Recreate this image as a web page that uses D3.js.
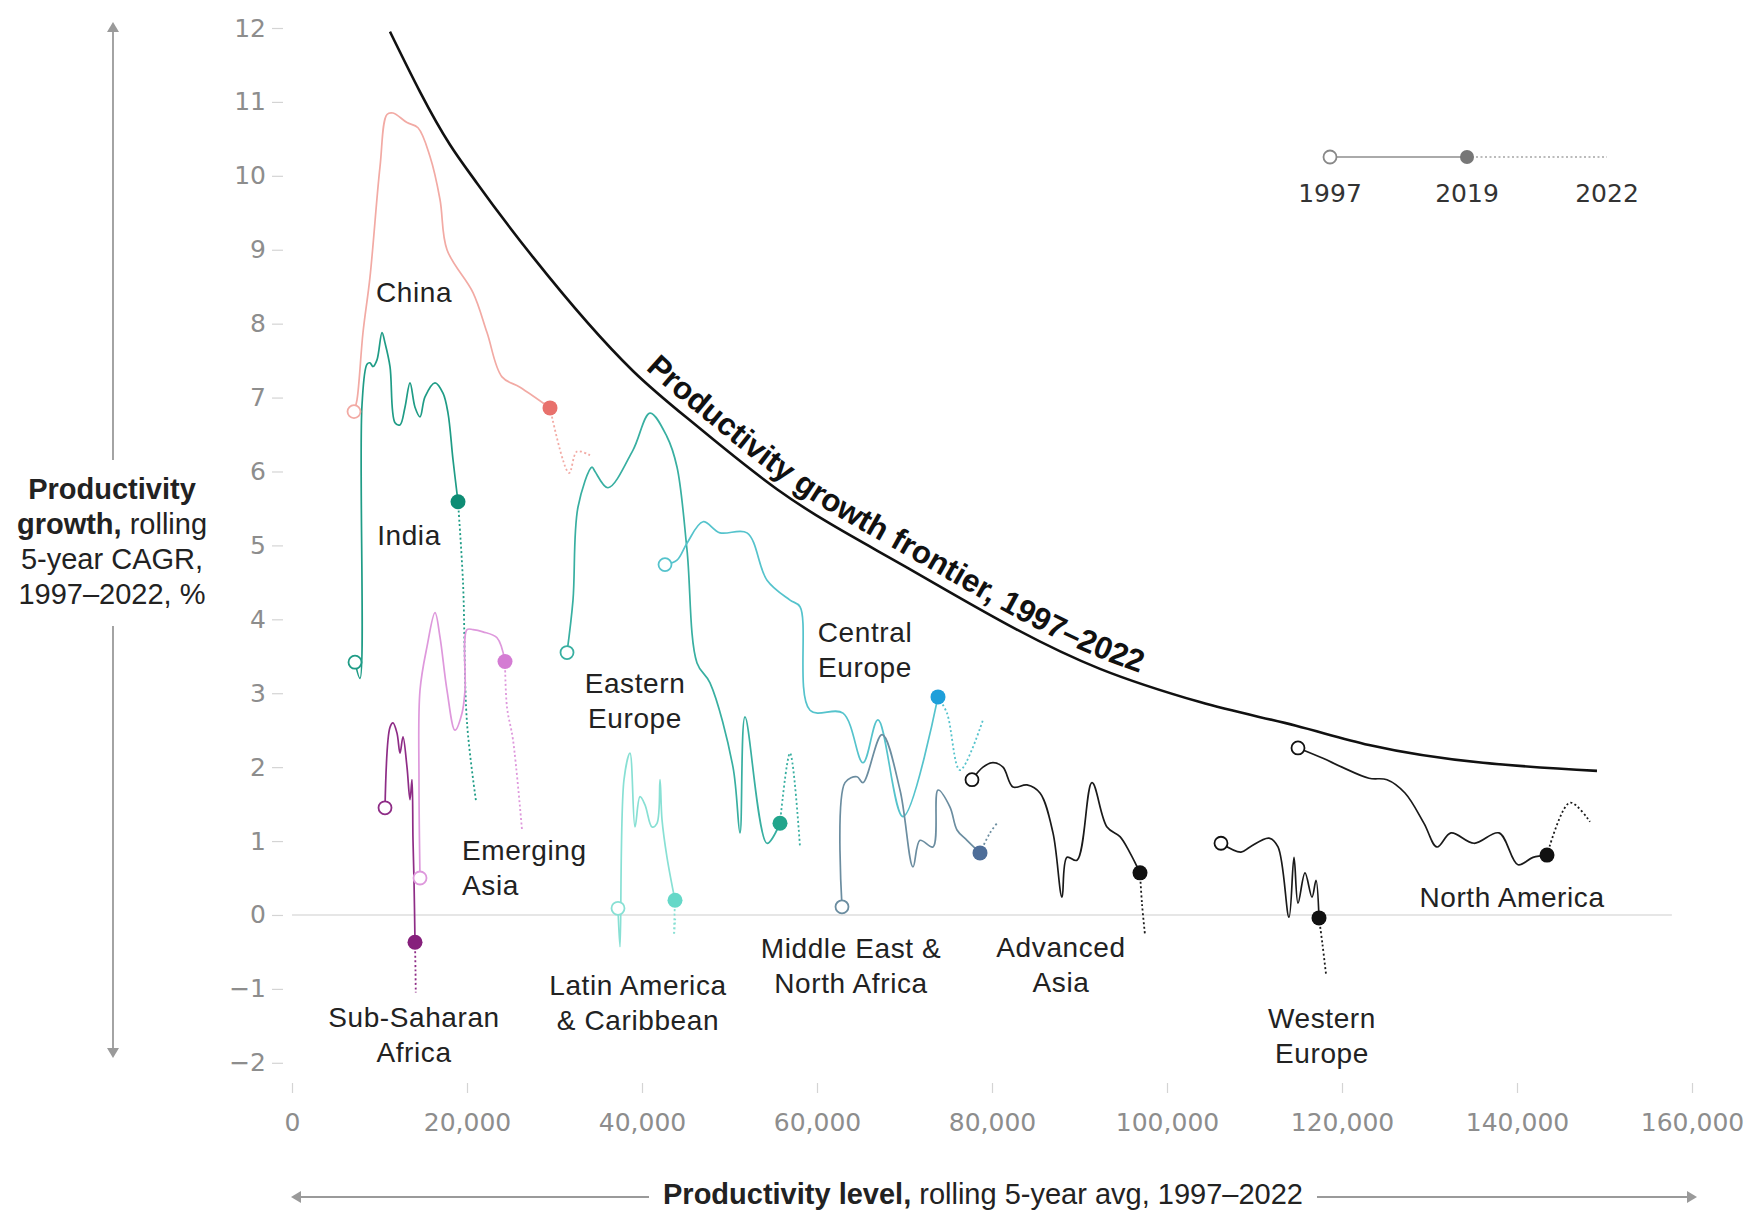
<!DOCTYPE html>
<html>
<head>
<meta charset="utf-8">
<script src="https://cdn.jsdelivr.net/npm/d3@7"></script>
<style>
html,body{margin:0;padding:0;background:#fff;}
svg{display:block;}
</style>
</head>
<body>
<svg id="chart" width="1756" height="1215"></svg>
<script>
// ================= DATA =================
const regionNames = ["China","India","Emerging Asia","Sub-Saharan Africa","Eastern Europe","Central Europe",
  "Latin America & Caribbean","Middle East & North Africa","Advanced Asia","Western Europe","North America"];
const xTickValues = [0,20000,40000,60000,80000,100000,120000,140000,160000];
const yTickValues = [-2,-1,0,1,2,3,4,5,6,7,8,9,10,11,12];
const legendYears = ["1997","2019","2022"];

// productivity growth frontier, 1997–2022  [level, growth %]
const frontier = [[11200,11.95],[18057,10.42],[21143,9.9],[27543,8.9],[38971,7.36],[46629,6.58],[55429,5.76],
  [70000,4.72],[92343,3.33],[103771,2.88],[114743,2.56],[123086,2.30],[149143,1.95]];

// each region: [productivity level, growth %]; first part 1997–2019, second 2019–2022
const china_1997_2019 = [[7086,6.81],[7429,6.97],[8114,7.88],[8914,8.63],[10057,10.12],[10857,10.83],[11543,10.85],
  [13143,10.72],[14400,10.65],[15771,10.26],[16914,9.68],[17714,9.0],[20686,8.42],[22286,7.88],[24000,7.28],[26057,7.14],[29486,6.86]];
const china_2019_2022 = [[29486,6.86],[31657,5.98],[32571,6.27],[34057,6.22]];

const india_1997_2019 = [[7200,3.42],[7771,3.2],[8000,6.9],[8571,7.45],[8914,7.47],[9257,7.42],[9714,7.51],[10286,7.88],
  [10629,7.74],[11200,7.42],[11771,6.66],[12343,6.63],[12914,6.87],[13486,7.20],[14057,6.87],[14629,6.74],[15200,7.01],
  [16343,7.20],[17257,7.06],[17829,6.79],[18400,6.16],[18971,5.59]];
const india_2019_2022 = [[18971,5.59],[19543,4.5],[20000,2.6],[21029,1.54]];

const emergingAsia_1997_2019 = [[14629,0.5],[14514,1.8],[14629,3.04],[15429,3.63],[16343,4.09],[16914,3.76],[17714,3.04],
  [18629,2.5],[19429,2.73],[19771,3.04],[20000,3.86],[20686,3.86],[21829,3.83],[23429,3.75],[24343,3.43]];
const emergingAsia_2019_2022 = [[24343,3.43],[24571,2.81],[25257,2.37],[26286,1.15]];

const subSaharanAfrica_1997_2019 = [[10629,1.45],[11200,2.54],[11543,2.60],[12000,2.46],[12343,2.19],[12686,2.41],
  [13143,2.0],[13486,1.56],[13714,1.83],[13829,1.01],[13943,0.47],[14057,-0.37]];
const subSaharanAfrica_2019_2022 = [[14057,-0.37],[14114,-0.75],[14143,-1.05]];

const easternEurope_1997_2019 = [[31429,3.55],[32114,4.26],[32686,5.52],[34286,6.06],[34629,6.0],[36114,5.78],[38971,6.29],
  [40914,6.79],[42857,6.47],[44000,6.06],[45143,4.94],[46286,3.41],[47771,3.14],[50400,2.0],[51200,1.11],[51771,2.68],
  [54286,0.97],[55771,1.24]];
const easternEurope_2019_2022 = [[55771,1.24],[56914,2.19],[58057,0.92]];

const centralEurope_1997_2019 = [[42629,4.74],[44000,4.8],[45143,5.03],[46971,5.32],[48914,5.17],[52000,5.17],[54286,4.53],
  [56914,4.26],[58057,4.17],[59200,2.77],[62971,2.73],[65257,2.06],[66971,2.64],[69829,1.33],[73829,2.95]];
const centralEurope_2019_2022 = [[73829,2.95],[74857,2.73],[76343,1.96],[78971,2.64]];

const latinAmerica_1997_2019 = [[37257,0.09],[37486,-0.43],[37943,1.83],[38629,2.19],[39200,1.19],[39771,1.6],[40343,1.49],
  [41143,1.19],[41714,1.24],[42057,1.83],[42286,1.29],[42857,0.78],[43771,0.2]];
const latinAmerica_2019_2022 = [[43771,0.2],[43657,-0.27],[43800,-0.05]];

const mena_1997_2019 = [[62857,0.11],[63200,1.79],[64571,1.87],[65257,1.79],[67429,2.44],[69486,1.69],[70971,0.65],
  [71771,1.01],[73257,0.92],[73829,1.69],[75200,1.46],[76000,1.15],[77143,1.01],[78629,0.84]];
const mena_2019_2022 = [[78629,0.84],[79771,1.11],[80571,1.24]];

const advancedAsia_1997_2019 = [[77714,1.83],[78971,2.0],[80114,2.06],[81257,2.0],[82400,1.73],[84000,1.76],[85486,1.65],
  [86971,1.11],[88000,0.24],[88571,0.78],[89714,0.74],[91429,1.79],[93143,1.19],[94629,1.06],[95771,0.84],[96914,0.57]];
const advancedAsia_2019_2022 = [[96914,0.57],[97143,0.15],[97486,-0.27]];

const westernEurope_1997_2019 = [[106171,0.97],[108457,0.85],[109486,0.92],[111657,1.04],[112686,0.92],[113943,-0.03],
  [114514,0.78],[114971,0.16],[115771,0.57],[116571,0.24],[117029,0.47],[117371,-0.04]];
const westernEurope_2019_2022 = [[117371,-0.04],[117771,-0.4],[118171,-0.8]];

const northAmerica_1997_2019 = [[114971,2.26],[117829,2.12],[120000,2.0],[123086,1.85],[125143,1.83],[127200,1.65],
  [129371,1.24],[130857,0.92],[132457,1.11],[135086,0.97],[137943,1.11],[140114,0.68],[141829,0.78],[143429,0.81]];
const northAmerica_2019_2022 = [[143429,0.81],[146057,1.52],[148343,1.26]];

const series = [
  {name:"China", solid:china_1997_2019, dotted:china_2019_2022},
  {name:"India", solid:india_1997_2019, dotted:india_2019_2022},
  {name:"Emerging Asia", solid:emergingAsia_1997_2019, dotted:emergingAsia_2019_2022},
  {name:"Sub-Saharan Africa", solid:subSaharanAfrica_1997_2019, dotted:subSaharanAfrica_2019_2022},
  {name:"Eastern Europe", solid:easternEurope_1997_2019, dotted:easternEurope_2019_2022},
  {name:"Central Europe", solid:centralEurope_1997_2019, dotted:centralEurope_2019_2022},
  {name:"Latin America & Caribbean", solid:latinAmerica_1997_2019, dotted:latinAmerica_2019_2022},
  {name:"Middle East & North Africa", solid:mena_1997_2019, dotted:mena_2019_2022},
  {name:"Advanced Asia", solid:advancedAsia_1997_2019, dotted:advancedAsia_2019_2022},
  {name:"Western Europe", solid:westernEurope_1997_2019, dotted:westernEurope_2019_2022},
  {name:"North America", solid:northAmerica_1997_2019, dotted:northAmerica_2019_2022}
];

// ================= STYLE / LAYOUT =================
const FONT = "'Liberation Sans', Arial, sans-serif";
const TICK_FONT = "'DejaVu Sans', sans-serif";
const LABEL_SIZE = 28, LINE_GAP = 35;
const style = {
  "China": {line:"#F2AAA4", marker:"#E8716C", text:["China"], at:[13943,8.42], anchor:"middle"},
  "India": {line:"#1F9C86", marker:"#0E8C74", text:["India"], at:[13371,5.14], anchor:"middle"},
  "Emerging Asia": {line:"#DE98DC", marker:"#D47CD3", text:["Emerging","Asia"], at:[19429,0.88], anchor:"start"},
  "Sub-Saharan Africa": {line:"#8E2C86", marker:"#86207C", text:["Sub-Saharan","Africa"], at:[13943,-1.38], anchor:"middle"},
  "Eastern Europe": {line:"#38AFA1", marker:"#22A58C", text:["Eastern","Europe"], at:[39200,3.13], anchor:"middle"},
  "Central Europe": {line:"#55C3CC", marker:"#1E9FDA", text:["Central","Europe"], at:[65486,3.83], anchor:"middle"},
  "Latin America & Caribbean": {line:"#88E0D4", marker:"#66D8C8", text:["Latin America","& Caribbean"], at:[39543,-0.95], anchor:"middle"},
  "Middle East & North Africa": {line:"#6B8DA0", marker:"#4E6E99", text:["Middle East &","North Africa"], at:[63886,-0.45], anchor:"middle"},
  "Advanced Asia": {line:"#1A1A1A", marker:"#111", text:["Advanced","Asia"], at:[87886,-0.43], anchor:"middle"},
  "Western Europe": {line:"#1A1A1A", marker:"#111", text:["Western","Europe"], at:[117714,-1.39], anchor:"middle"},
  "North America": {line:"#1A1A1A", marker:"#111", text:["North America"], at:[139429,0.24], anchor:"middle"}
};

// ================= DRAW =================
const svg = d3.select("#chart");
const x = d3.scaleLinear().domain([0,160000]).range([292,1692]);
const y = d3.scaleLinear().domain([-2,12]).range([1062.8,28]);

// zero line
svg.append("line").attr("x1",x(0)).attr("x2",x(157700)).attr("y1",y(0)).attr("y2",y(0))
  .attr("stroke","#e6e6e6").attr("stroke-width",2);

// y axis
const gy = svg.append("g").attr("transform","translate(283,0)")
  .call(d3.axisLeft(y).tickValues(yTickValues).tickSize(11).tickPadding(6)
    .tickFormat(d => d < 0 ? "\u2212" + Math.abs(d) : String(d)));
gy.select(".domain").remove();
gy.selectAll(".tick line").attr("stroke","#d4d4d4").attr("stroke-width",1.2);
gy.selectAll(".tick text").attr("font-family",TICK_FONT).attr("font-size",25).attr("fill","#8d8d8d");

// x axis
const gx = svg.append("g").attr("transform","translate(0,1083)")
  .call(d3.axisBottom(x).tickValues(xTickValues).tickSize(10).tickPadding(20).tickFormat(d3.format(",")));
gx.select(".domain").remove();
gx.selectAll(".tick line").attr("stroke","#d4d4d4").attr("stroke-width",1.2);
gx.selectAll(".tick text").attr("font-family",TICK_FONT).attr("font-size",25).attr("fill","#8d8d8d");

// frontier
const frontierLine = d3.line().x(d=>x(d[0])).y(d=>y(d[1])).curve(d3.curveMonotoneX);
const fPath = svg.append("path").datum(frontier).attr("id","frontierPath")
  .attr("d",frontierLine).attr("fill","none").attr("stroke","#111").attr("stroke-width",2.6);
const fNode = fPath.node();
function lengthAtX(px){
  let lo=0, hi=fNode.getTotalLength();
  for(let i=0;i<50;i++){ const m=(lo+hi)/2; if(fNode.getPointAtLength(m).x<px) lo=m; else hi=m; }
  return lo;
}
const fLabel = "Productivity growth frontier, 1997\u20132022";
const s0 = lengthAtX(x(39600)), s1 = lengthAtX(x(96500));
const tmp = svg.append("text").attr("font-family",FONT).attr("font-weight","bold").attr("font-size",24).text(fLabel);
const w24 = tmp.node().getComputedTextLength(); tmp.remove();
const fSize = 24*(s1-s0)/w24;
// lay the label along the curve, then place each glyph as its own rotated text
const onPath = svg.append("text").attr("font-family",FONT).attr("font-weight","bold").attr("font-size",fSize);
onPath.append("textPath").attr("href","#frontierPath").attr("startOffset",s0)
  .append("tspan").attr("dy",-10).text(fLabel);
const opNode = onPath.node();
const glyphs = [];
for(let i=0;i<fLabel.length;i++){
  if(fLabel[i]===" ") continue;
  const p = opNode.getStartPositionOfChar(i);
  const r = opNode.getRotationOfChar(i);
  glyphs.push({ch:fLabel[i], x:p.x, y:p.y, r:r});
}
onPath.remove();
const gF = svg.append("g").attr("font-family",FONT).attr("font-weight","bold").attr("font-size",fSize).attr("fill","#111");
glyphs.forEach(g=>{
  gF.append("text").attr("x",g.x).attr("y",g.y)
    .attr("transform",`rotate(${g.r},${g.x},${g.y})`).text(g.ch);
});

// region lines
const pathGen = d3.line().x(d=>x(d[0])).y(d=>y(d[1])).curve(d3.curveCatmullRom.alpha(0.5));
const gLines = svg.append("g");
series.forEach(s=>{
  const st = style[s.name];
  gLines.append("path").datum(s.dotted).attr("d",pathGen).attr("fill","none")
    .attr("stroke",st.line).attr("stroke-width",1.8).attr("stroke-dasharray","2,2.5");
  gLines.append("path").datum(s.solid).attr("d",pathGen).attr("fill","none")
    .attr("stroke",st.line).attr("stroke-width",1.7).attr("stroke-linejoin","round");
});
// markers
const gMarks = svg.append("g");
series.forEach(s=>{
  const st = style[s.name];
  const first = s.solid[0], last = s.solid[s.solid.length-1];
  gMarks.append("circle").attr("cx",x(first[0])).attr("cy",y(first[1])).attr("r",6.5)
    .attr("fill","#fff").attr("stroke",st.line==="#1A1A1A"?"#111":st.line).attr("stroke-width",1.8);
  gMarks.append("circle").attr("cx",x(last[0])).attr("cy",y(last[1])).attr("r",7.5).attr("fill",st.marker);
});

// region labels
const gLab = svg.append("g");
series.forEach(s=>{
  const st = style[s.name];
  const t = gLab.append("text").attr("font-family",FONT).attr("font-size",LABEL_SIZE).attr("fill","#222")
    .attr("text-anchor",st.anchor).attr("letter-spacing",0.6);
  st.text.forEach((ln,i)=>{
    t.append("tspan").attr("x",x(st.at[0])).attr("y",y(st.at[1])+i*LINE_GAP).attr("dy","0.35em").text(ln);
  });
});

// legend
const lg = svg.append("g");
const lgX = [1330,1467,1607], lgY = 157;
lg.append("line").attr("x1",lgX[0]+6).attr("x2",lgX[1]).attr("y1",lgY).attr("y2",lgY).attr("stroke","#aaa").attr("stroke-width",2.2);
lg.append("line").attr("x1",lgX[1]).attr("x2",lgX[2]).attr("y1",lgY).attr("y2",lgY).attr("stroke","#bbb")
  .attr("stroke-width",1.8).attr("stroke-dasharray","2,2.5");
lg.append("circle").attr("cx",lgX[0]).attr("cy",lgY).attr("r",6.5).attr("fill","#fff").attr("stroke","#888").attr("stroke-width",1.8);
lg.append("circle").attr("cx",lgX[1]).attr("cy",lgY).attr("r",7).attr("fill","#777");
legendYears.forEach((yr,i)=>{
  lg.append("text").attr("x",lgX[i]).attr("y",193).attr("dy","0.35em").attr("text-anchor","middle")
    .attr("font-family",TICK_FONT).attr("font-size",25).attr("fill","#333").text(yr);
});

// y-axis title with arrow
const yt = svg.append("text").attr("font-family",FONT).attr("font-size",29).attr("fill","#222").attr("text-anchor","middle");
const ytLines = [[["Productivity","bold"]],[["growth,","bold"],[" rolling","normal"]],[["5-year CAGR,","normal"]],[["1997\u20132022, %","normal"]]];
ytLines.forEach((parts,i)=>{
  parts.forEach((p,j)=>{
    const ts = yt.append("tspan").attr("font-weight",p[1]).text(p[0]);
    if(j===0) ts.attr("x",112).attr("y",489+i*35).attr("dy","0.35em");
  });
});
const arrowCol = "#9a9a9a";
function arrowHead(x0,y0,dir){
  const s=6, l=10;
  let pts;
  if(dir==="up") pts=[[x0,y0],[x0-s,y0+l],[x0+s,y0+l]];
  if(dir==="down") pts=[[x0,y0],[x0-s,y0-l],[x0+s,y0-l]];
  if(dir==="left") pts=[[x0,y0],[x0+l,y0-s],[x0+l,y0+s]];
  if(dir==="right") pts=[[x0,y0],[x0-l,y0-s],[x0-l,y0+s]];
  svg.append("path").attr("d","M"+pts.map(p=>p.join(",")).join("L")+"Z").attr("fill",arrowCol);
}
svg.append("line").attr("x1",113).attr("x2",113).attr("y1",28).attr("y2",460).attr("stroke",arrowCol).attr("stroke-width",1.8);
svg.append("line").attr("x1",113).attr("x2",113).attr("y1",626).attr("y2",1052).attr("stroke",arrowCol).attr("stroke-width",1.8);
arrowHead(113,22,"up"); arrowHead(113,1058,"down");

// x-axis title with arrow
const xt = svg.append("text").attr("font-family",FONT).attr("font-size",29).attr("fill","#222")
  .attr("text-anchor","middle").attr("x",983).attr("y",1194).attr("dy","0.35em");
xt.append("tspan").attr("font-weight","bold").text("Productivity level,");
xt.append("tspan").attr("font-weight","normal").text(" rolling 5-year avg, 1997\u20132022");
const bb = xt.node().getBBox();
svg.append("line").attr("x1",297).attr("x2",bb.x-14).attr("y1",1197).attr("y2",1197).attr("stroke",arrowCol).attr("stroke-width",1.8);
svg.append("line").attr("x1",bb.x+bb.width+14).attr("x2",1691).attr("y1",1197).attr("y2",1197).attr("stroke",arrowCol).attr("stroke-width",1.8);
arrowHead(291,1197,"left"); arrowHead(1697,1197,"right");
</script>
</body>
</html>
